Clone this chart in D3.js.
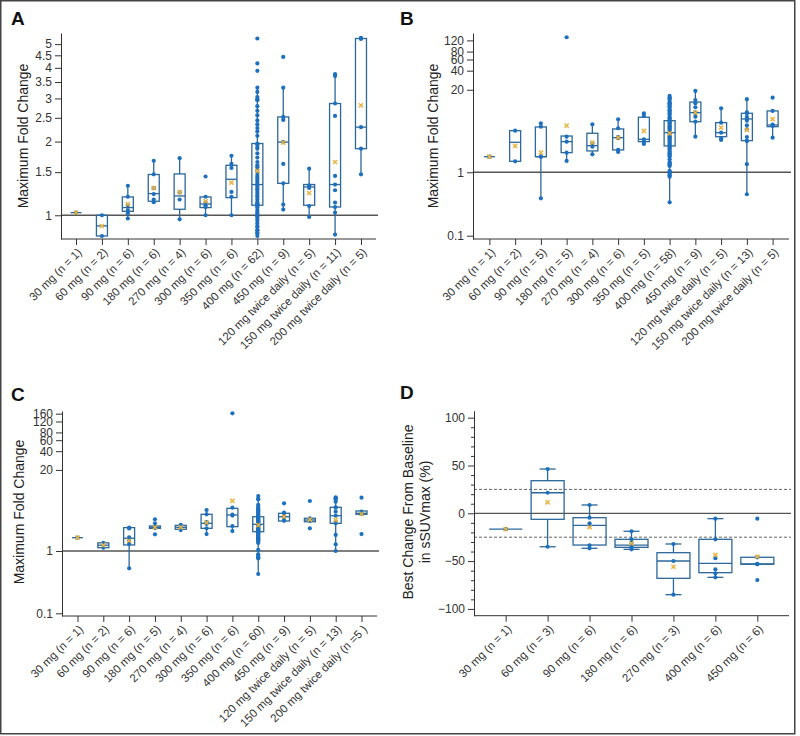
<!DOCTYPE html>
<html>
<head>
<meta charset="utf-8">
<script src="https://cdn.jsdelivr.net/npm/d3@7"></script>
<style>
  body { margin: 0; background: #fff; }
  svg { display: block; font-family: "Liberation Sans", Arial, sans-serif; }
</style>
</head>
<body>
<svg id="chart" width="800" height="736"></svg>
<script>
// ---------- Panel A: Maximum fold change ----------
const aLabels = ["30 mg (n = 1)", "60 mg (n = 2)", "90 mg (n = 6)", "180 mg (n = 6)", "270 mg (n = 4)",
  "300 mg (n = 6)", "350 mg (n = 6)", "400 mg (n = 62)", "450 mg (n = 9)",
  "120 mg twice daily (n = 5)", "150 mg twice daily (n = 11)", "200 mg twice daily (n = 5)"];
const aPoints = [
  [1.025],
  [1.0, 0.823],
  [1.32, 1.19, 1.10, 1.05, 1.02, 0.97],
  [1.67, 1.47, 1.29, 1.22, 1.16, 1.13],
  [1.71, 1.24, 1.16, 0.963],
  [1.44, 1.19, 1.13, 1.10, 1.08, 1.0],
  [1.75, 1.62, 1.56, 1.245, 1.19, 1.0],
  [5.27, 4.17, 3.89, 3.32, 3.19, 3.04, 2.98, 2.95, 2.79, 2.67, 2.56, 2.44, 2.35, 2.27, 2.20, 2.11,
   1.95, 1.87, 1.79, 1.72, 1.65, 1.57, 1.50, 1.43, 1.37, 1.305, 1.245, 1.188, 1.133, 1.109, 1.075,
   1.016, 0.969, 0.925, 0.896, 0.868, 0.842, 0.823, 1.96, 1.9, 1.6, 1.53, 1.46, 1.40, 1.34, 1.33,
   1.28, 1.27, 1.22, 1.2, 1.16, 1.12, 1.1, 1.09, 1.05, 1.03, 1.0, 0.99, 0.95, 0.9, 0.87, 0.85],
  [4.43, 3.32, 2.52, 2.45, 1.99, 1.62, 1.35, 1.106, 1.055],
  [1.55, 1.326, 1.293, 1.091, 0.984],
  [3.77, 3.70, 2.86, 2.545, 1.447, 1.335, 1.265, 1.127, 1.08, 1.026, 0.834],
  [5.30, 5.25, 2.29, 1.87, 1.47]
];
const aQ1 = [1.025, 0.823, 1.038, 1.141, 1.058, 1.075, 1.181, 1.099, 1.35, 1.099, 1.081, 1.87];
const aMed = [1.025, 0.905, 1.075, 1.226, 1.199, 1.112, 1.403, 1.335, 1.99, 1.305, 1.335, 2.29];
const aQ3 = [1.025, 1.0, 1.188, 1.467, 1.475, 1.188, 1.60, 1.963, 2.52, 1.335, 2.86, 5.27];
const aLo = [1.025, 0.823, 0.97, 1.13, 0.963, 1.0, 1.0, 0.823, 1.055, 0.984, 0.834, 1.47];
const aHi = [1.025, 1.0, 1.32, 1.67, 1.71, 1.188, 1.75, 3.32, 3.32, 1.55, 3.77, 5.27];
const aMean = [1.025, 0.904, 1.11, 1.29, 1.242, 1.141, 1.36, 1.517, 1.98, 1.233, 1.65, 2.81];
const aTicks = [1, 1.5, 2, 2.5, 3, 3.5, 4, 4.5, 5];

// ---------- Panel B ----------
const bLabels = ["30 mg (n = 1)", "60 mg (n = 2)", "90 mg (n = 5)", "180 mg (n = 5)", "270 mg (n = 4)",
  "300 mg (n = 6)", "350 mg (n = 5)", "400 mg (n = 58)", "450 mg (n = 9)",
  "120 mg twice daily (n = 5)", "150 mg twice daily (n = 13)", "200 mg twice daily (n = 5)"];
const bPoints = [
  [1.76],
  [4.53, 1.49],
  [5.93, 5.24, 1.76, 1.76, 0.389],
  [134.6, 3.64, 3.04, 2.04, 1.51],
  [5.71, 2.87, 2.53, 1.92],
  [6.86, 4.94, 3.6, 3.45, 2.25, 2.09],
  [8.52, 7.73, 3.31, 3.04, 2.8],
  [15.96, 15.0, 13.8, 12.7, 11.8, 10.8, 9.96, 9.03, 8.01, 7.37, 6.68, 6.06, 5.57, 5.05, 4.65, 4.21,
   3.88, 3.51, 3.23, 2.93, 2.67, 2.39, 2.11, 1.94, 1.76, 1.45, 1.35, 1.257, 1.02, 0.94, 0.853, 0.336,
   14.5, 12.2, 11.0, 9.5, 8.5, 7.0, 6.3, 5.8, 5.3, 4.9, 4.4, 4.0, 3.7, 3.4, 3.1, 2.8, 2.5, 2.25, 2.0,
   1.85, 1.6, 1.4, 1.3, 1.05, 0.98, 0.9],
  [19.2, 13.8, 12.2, 10.6, 8.72, 8.7, 7.54, 6.28, 3.64],
  [10.2, 6.06, 4.21, 3.44, 3.23],
  [14.2, 8.84, 8.5, 7.5, 6.93, 6.5, 5.5, 4.77, 3.6, 3.15, 3.1, 1.34, 0.45],
  [15.0, 9.27, 5.63, 5.38, 3.51]
];
const bQ1 = [1.76, 1.49, 1.762, 2.04, 2.17, 2.25, 3.04, 2.6, 6.28, 3.64, 3.15, 5.24];
const bMed = [1.76, 2.97, 1.76, 3.04, 2.63, 3.51, 3.31, 4.21, 8.72, 4.21, 6.93, 5.57];
const bQ3 = [1.76, 4.53, 5.18, 3.73, 4.12, 4.82, 7.37, 6.51, 12.8, 6.06, 8.52, 9.27];
const bLo = [1.76, 1.49, 0.389, 1.51, 1.92, 2.09, 2.8, 0.336, 3.64, 3.23, 0.45, 3.51];
const bHi = [1.76, 4.53, 5.93, 3.73, 5.71, 6.86, 8.52, 15.96, 19.2, 10.2, 14.2, 9.27];
const bMean = [1.76, 2.6, 2.04, 5.43, 2.93, 3.51, 4.48, 4.12, 8.7, 5.05, 4.65, 6.86];
const bTicks = [0.1, 1, 20, 40, 60, 80, 120];

// ---------- Panel C ----------
const cLabels = ["30 mg (n = 1)", "60 mg (n = 2)", "90 mg (n = 6)", "180 mg (n = 5)", "270 mg (n = 4)",
  "300 mg (n = 6)", "350 mg (n = 6)", "400 mg (n = 60)", "450 mg (n = 9)",
  "120 mg twice daily (n = 5)", "150 mg twice daily (n = 13)", "200 mg twice daily (n =5 )"];
const cPoints = [
  [1.635],
  [1.35, 1.13],
  [2.37, 2.3, 1.66, 1.5, 1.3, 0.527],
  [3.23, 2.78, 2.45, 2.35, 1.85],
  [2.64, 2.45, 2.35, 2.17],
  [4.55, 3.88, 2.9, 2.71, 2.31, 1.87],
  [162, 4.95, 3.85, 3.7, 2.52, 2.09],
  [7.63, 6.76, 5.14, 4.67, 4.27, 3.92, 3.55, 3.26, 3.07, 2.84, 2.68, 2.46, 2.23, 2.04, 1.87, 1.70,
   1.54, 1.41, 1.04, 0.86, 0.79, 0.76, 0.427, 6.9, 5.5, 4.9, 4.5, 4.1, 3.8, 3.7, 3.4, 3.3, 3.2, 3.1,
   3.0, 2.9, 2.8, 2.75, 2.7, 2.6, 2.55, 2.5, 2.4, 2.35, 2.3, 2.2, 2.15, 2.1, 2.0, 1.95, 1.9, 1.8,
   1.75, 1.65, 1.6, 1.5, 1.45, 1.35, 0.88, 0.8],
  [5.83, 4.12, 4.0, 3.68, 3.55, 3.47, 3.3, 3.14, 3.05],
  [6.35, 3.35, 3.14, 3.03, 2.31],
  [7.28, 7.0, 6.76, 6.2, 5.03, 4.95, 4.27, 3.68, 2.95, 2.78, 1.81, 1.28, 1.0],
  [7.17, 4.27, 4.03, 3.95, 1.87]
];
const cQ1 = [1.635, 1.13, 1.25, 2.31, 2.23, 2.31, 2.46, 2.04, 3.03, 2.95, 2.78, 3.88];
const cMed = [1.635, 1.24, 1.6, 2.4, 2.4, 2.78, 3.78, 2.68, 3.55, 3.14, 3.68, 4.03];
const cQ3 = [1.635, 1.35, 2.37, 2.52, 2.58, 3.88, 4.84, 3.55, 4.03, 3.35, 5.03, 4.39];
const cLo = [1.635, 1.13, 0.527, 2.31, 2.23, 1.87, 2.09, 0.427, 3.03, 2.95, 1.0, 3.88];
const cHi = [1.635, 1.35, 2.37, 2.52, 2.58, 4.55, 4.95, 7.63, 4.12, 3.35, 7.28, 4.39];
const cMean = [1.635, 1.24, 1.46, 2.4, 2.4, 2.85, 6.35, 2.6, 3.55, 3.2, 3.14, 3.95];
const cTicks = [0.1, 1, 20, 40, 60, 80, 120, 160];

// ---------- Panel D: best change in sSUVmax ----------
const dLabels = ["30 mg (n = 1)", "60 mg (n = 3)", "90 mg (n = 6)", "180 mg (n = 6)",
  "270 mg (n = 3)", "400 mg (n = 6)", "450 mg (n = 6)"];
const dPoints = [
  [-16.5],
  [46.3, 21.5, -35],
  [8.7, -4.6, -10.5, -13, -33.5, -36.6],
  [-18.8, -27.2, -31, -34, -35.6, -37.7],
  [-32.1, -49.9, -85.1],
  [-5.6, -27.2, -47, -58.6, -62.8, -67],
  [-5.6, -46, -53, -53.3, -53.3, -69.8]
];
const dQ1 = [-16.5, -6.3, -33.2, -35.6, -68, -62.1, -53.3];
const dMed = [-16.5, 21.5, -12.6, -33.2, -49.9, -52.3, -53];
const dQ3 = [-16.5, 34.1, -4.6, -27.2, -41.2, -27.2, -46];
const dLo = [-16.5, -35, -36.6, -37.7, -85.1, -67, -53.3];
const dHi = [-16.5, 46.3, 8.7, -18.8, -32.1, -5.6, -46];
const dMean = [-16.5, 11.5, -14.6, -31.4, -55.9, -43.6, -45.4];
const dTicks = [-100, -50, 0, 50, 100];
const dMinorTicks = [-90, -80, -70, -60, -40, -30, -20, -10, 10, 20, 30, 40, 60, 70, 80, 90];
const dThresholds = [25, -25];

const BOX_COLOR = "#2c6899";
const DOT_COLOR = "#1c70be";
const MEAN_COLOR = "#e9b441";
const AXIS_COLOR = "#333";

const svg = d3.select("#chart");

// outer frame
svg.append("rect")
  .attr("x", 0.75).attr("y", 0.75)
  .attr("width", 794).attr("height", 733)
  .attr("fill", "none")
  .attr("stroke", "#444")
  .attr("stroke-width", 1.5);

function drawPanel(p) {
  const g = svg.append("g");

  const x = d3.scalePoint()
    .domain(p.labels)
    .range([p.left, p.right])
    .padding(p.pad);

  const y = (p.log ? d3.scaleLog() : d3.scaleLinear())
    .domain(p.domain)
    .range([p.bottom, p.top]);

  // reference lines
  g.append("line")
    .attr("x1", p.left).attr("x2", p.right + 2)
    .attr("y1", y(p.refValue)).attr("y2", y(p.refValue))
    .attr("stroke", "#555").attr("stroke-width", 1.3);

  (p.dashed || []).forEach(v => {
    g.append("line")
      .attr("x1", p.left).attr("x2", p.right + 2)
      .attr("y1", y(v)).attr("y2", y(v))
      .attr("stroke", "#666").attr("stroke-width", 1)
      .attr("stroke-dasharray", "3,2");
  });

  // y axis
  const yAxis = g.append("g")
    .attr("transform", `translate(${p.left},0)`)
    .call(d3.axisLeft(y).tickValues(p.ticks).tickSizeOuter(0)
      .tickFormat(d => d < 0 ? "\u2212" + Math.abs(d) : String(d)));
  yAxis.attr("font-family", null).attr("font-size", null);
  yAxis.selectAll("text").style("font-size", "12px").attr("fill", AXIS_COLOR);
  yAxis.selectAll("line, path").attr("stroke", AXIS_COLOR);

  if (p.minor) {
    const minor = g.append("g")
      .attr("transform", `translate(${p.left},0)`)
      .call(d3.axisLeft(y).tickValues(p.minor).tickSize(3).tickFormat(""));
    minor.select(".domain").remove();
    minor.selectAll("line").attr("stroke", AXIS_COLOR);
  }

  // x axis
  const xAxis = g.append("g")
    .attr("transform", `translate(0,${p.bottom})`)
    .call(d3.axisBottom(x).tickSizeOuter(0));
  xAxis.attr("font-family", null).attr("font-size", null);
  xAxis.select(".domain").attr("d", `M${p.left},0H${p.right}`);
  xAxis.selectAll("line, path").attr("stroke", AXIS_COLOR);
  xAxis.selectAll("text")
    .attr("x", 0).attr("y", 0).attr("dy", 0)
    .attr("text-anchor", "end")
    .attr("transform", "translate(6,14) rotate(-45)")
    .style("font-size", "11.5px")
    .attr("fill", AXIS_COLOR);

  const bw = p.boxWidth;

  p.labels.forEach((lab, i) => {
    const cx = x(lab);
    const grp = g.append("g");

    // whiskers
    if (p.hi[i] > p.q3[i]) {
      grp.append("line")
        .attr("x1", cx).attr("x2", cx)
        .attr("y1", y(p.q3[i])).attr("y2", y(p.hi[i]))
        .attr("stroke", BOX_COLOR).attr("stroke-width", 1.3);
      if (p.caps) {
        grp.append("line")
          .attr("x1", cx - p.caps / 2).attr("x2", cx + p.caps / 2)
          .attr("y1", y(p.hi[i])).attr("y2", y(p.hi[i]))
          .attr("stroke", BOX_COLOR).attr("stroke-width", 1.3);
      }
    }
    if (p.lo[i] < p.q1[i]) {
      grp.append("line")
        .attr("x1", cx).attr("x2", cx)
        .attr("y1", y(p.q1[i])).attr("y2", y(p.lo[i]))
        .attr("stroke", BOX_COLOR).attr("stroke-width", 1.3);
      if (p.caps) {
        grp.append("line")
          .attr("x1", cx - p.caps / 2).attr("x2", cx + p.caps / 2)
          .attr("y1", y(p.lo[i])).attr("y2", y(p.lo[i]))
          .attr("stroke", BOX_COLOR).attr("stroke-width", 1.3);
      }
    }

    // box
    grp.append("rect")
      .attr("x", cx - bw / 2)
      .attr("y", y(p.q3[i]))
      .attr("width", bw)
      .attr("height", Math.max(0, y(p.q1[i]) - y(p.q3[i])))
      .attr("fill", "none")
      .attr("stroke", BOX_COLOR)
      .attr("stroke-width", 1.3);

    // median
    grp.append("line")
      .attr("x1", cx - bw / 2).attr("x2", cx + bw / 2)
      .attr("y1", y(p.med[i])).attr("y2", y(p.med[i]))
      .attr("stroke", BOX_COLOR).attr("stroke-width", 1.3);

    // individual points
    grp.selectAll("circle")
      .data(p.points[i])
      .join("circle")
      .attr("cx", cx)
      .attr("cy", d => y(d))
      .attr("r", 2.1)
      .attr("fill", DOT_COLOR);

    // mean marker
    grp.append("path")
      .attr("d", d3.symbol(d3.symbolTimes, 13)())
      .attr("transform", `translate(${cx},${y(p.mean[i])})`)
      .attr("fill", "none")
      .attr("stroke", MEAN_COLOR)
      .attr("stroke-width", 1.5);
  });

  // panel letter
  svg.append("text")
    .attr("x", p.letterX).attr("y", p.letterY)
    .style("font-size", "19px")
    .style("font-weight", "bold")
    .attr("fill", "#111")
    .text(p.letter);

  // y title
  const title = svg.append("text")
    .attr("transform", `translate(${p.titleX},${p.titleY}) rotate(-90)`)
    .attr("text-anchor", "middle")
    .style("font-size", "14px")
    .attr("fill", "#222");
  p.title.forEach((t, k) => {
    title.append("tspan")
      .attr("x", 0)
      .attr("dy", k === 0 ? 0 : "1.2em")
      .text(t);
  });
}

drawPanel({
  letter: "A", letterX: 11, letterY: 25,
  title: ["Maximum Fold Change"], titleX: 28, titleY: 136,
  labels: aLabels, points: aPoints, q1: aQ1, med: aMed, q3: aQ3, lo: aLo, hi: aHi, mean: aMean,
  ticks: aTicks, log: true, domain: [0.8, 5.55], refValue: 1,
  left: 61, right: 376, top: 33, bottom: 239, pad: 0.58, boxWidth: 11
});

drawPanel({
  letter: "B", letterX: 400, letterY: 25,
  title: ["Maximum Fold Change"], titleX: 438, titleY: 136,
  labels: bLabels, points: bPoints, q1: bQ1, med: bMed, q3: bQ3, lo: bLo, hi: bHi, mean: bMean,
  ticks: bTicks, log: true, domain: [0.0887, 157], refValue: 1,
  left: 473, right: 789, top: 33, bottom: 239, pad: 0.636, boxWidth: 11
});

drawPanel({
  letter: "C", letterX: 11, letterY: 401,
  title: ["Maximum Fold Change"], titleX: 24, titleY: 512,
  labels: cLabels, points: cPoints, q1: cQ1, med: cMed, q3: cQ3, lo: cLo, hi: cHi, mean: cMean,
  ticks: cTicks, log: true, domain: [0.0905, 176.6], refValue: 1,
  left: 62, right: 377, top: 411, bottom: 616, pad: 0.6, boxWidth: 11
});

drawPanel({
  letter: "D", letterX: 400, letterY: 399,
  title: ["Best Change From Baseline", "in sSUVmax (%)"], titleX: 413, titleY: 512,
  labels: dLabels, points: dPoints, q1: dQ1, med: dMed, q3: dQ3, lo: dLo, hi: dHi, mean: dMean,
  ticks: dTicks, minor: dMinorTicks, log: false, domain: [-107.1, 107.3], refValue: 0,
  dashed: dThresholds,
  left: 474, right: 789, top: 410.7, bottom: 615.7, pad: 0.755, boxWidth: 33, caps: 16
});
</script>
</body>
</html>
